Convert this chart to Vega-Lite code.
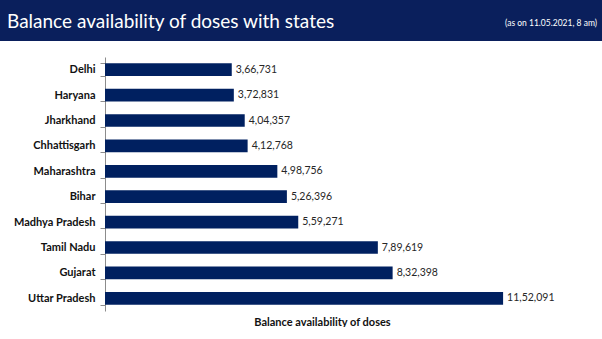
{
  "$schema": "https://vega.github.io/schema/vega-lite/v6.json",
  "padding": 0,
  "background": "white",
  "spacing": 10,
  "config": {
    "view": {"stroke": null},
    "font": "Lato",
    "locale": {"number": {"decimal": ".", "thousands": ",", "grouping": [3, 2], "currency": ["₹", ""]}}
  },
  "vconcat": [
    {
      "width": 602,
      "height": 41,
      "view": {"fill": "#0a1f5c", "stroke": null},
      "data": {"values": [{"title": "Balance availability of doses with states", "note": "(as on 11.05.2021, 8 am)"}]},
      "layer": [
        {
          "mark": {"type": "text", "align": "left", "baseline": "alphabetic", "dx": -294, "dy": 7.5, "color": "white", "fontSize": 19, "font": "Lato"},
          "encoding": {"text": {"field": "title"}}
        },
        {
          "mark": {"type": "text", "align": "right", "baseline": "alphabetic", "dx": 296, "dy": 5.5, "color": "white", "fontSize": 8.5, "font": "Lato"},
          "encoding": {"text": {"field": "note"}}
        }
      ]
    },
    {
      "width": 602,
      "height": 254,
      "data": {
        "values": [
          {"state": "Delhi", "doses": 366731},
          {"state": "Haryana", "doses": 372831},
          {"state": "Jharkhand", "doses": 404357},
          {"state": "Chhattisgarh", "doses": 412768},
          {"state": "Maharashtra", "doses": 498756},
          {"state": "Bihar", "doses": 526396},
          {"state": "Madhya Pradesh", "doses": 559271},
          {"state": "Tamil Nadu", "doses": 789619},
          {"state": "Gujarat", "doses": 832398},
          {"state": "Uttar Pradesh", "doses": 1152091}
        ]
      },
      "encoding": {
        "y": {
          "field": "state",
          "type": "nominal",
          "sort": null,
          "scale": {"paddingInner": 0.5, "paddingOuter": 0.25},
          "axis": {
            "title": null,
            "offset": -105,
            "tickBand": "extent",
            "tickSize": 5,
            "tickColor": "#8c8c8c",
            "domainColor": "#8c8c8c",
            "labelPadding": 5,
            "labelFontWeight": "bold",
            "labelFontSize": 11,
            "labelColor": "#111111",
            "labelFont": "Lato",
            "grid": false
          }
        },
        "x": {
          "field": "doses",
          "type": "quantitative",
          "scale": {"domain": [0, 1256000], "range": [105, 539]},
          "axis": {
            "title": "Balance availability of doses",
            "labels": false,
            "ticks": false,
            "domain": false,
            "grid": false,
            "titlePadding": 5,
            "titleFontSize": 11,
            "titleFontWeight": "bold",
            "titleColor": "#111111",
            "titleFont": "Lato"
          }
        }
      },
      "layer": [
        {"mark": {"type": "bar", "color": "#002060"}},
        {
          "mark": {"type": "text", "align": "left", "baseline": "middle", "dx": 4, "fontSize": 10.5, "color": "#262626", "font": "Lato"},
          "encoding": {"text": {"field": "doses", "type": "quantitative", "format": ",d"}}
        }
      ]
    }
  ]
}
